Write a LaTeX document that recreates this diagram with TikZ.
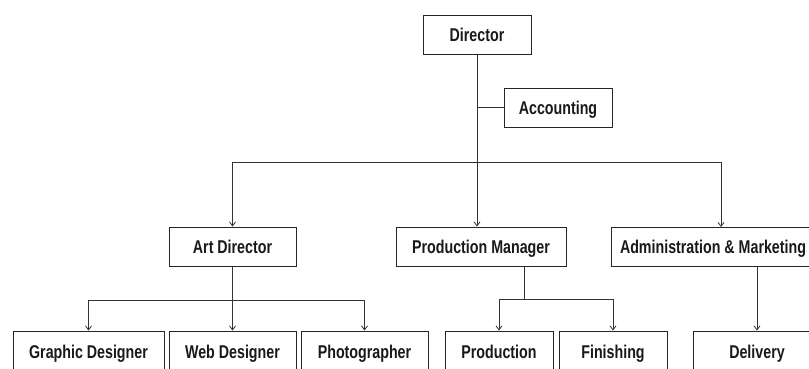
\documentclass[tikz,border=0pt]{standalone}
\usepackage{fontspec}
\setmainfont{Liberation Sans}[FakeStretch=0.77]
\usetikzlibrary{arrows.meta}
\begin{document}
\begin{tikzpicture}[x=1pt,y=-1pt,
  box/.style={draw=black!85, line width=0.9pt, rectangle, inner sep=0pt,
    minimum height=39pt, text height=14.4pt, text depth=0pt,
    font=\fontsize{18.5}{21}\selectfont\bfseries, text=black!90},
  link/.style={draw=black!80, line width=0.8pt},
  arr/.style={link, -{Straight Barb[length=4pt,width=6pt]}}]
\useasboundingbox (0,0) rectangle (809,369);
\clip (0,0) rectangle (809,369);
\node[box, minimum width=108pt] (dir) at (477,34.5) {Director};
\node[box, minimum width=108pt] (acc) at (558,107.5) {Accounting};
\node[box, minimum width=127pt] (art) at (232.5,246.5) {Art Director};
\node[box, minimum width=170pt] (pm) at (481,246.5) {Production Manager};
\node[box, minimum width=204pt] (adm) at (713,246.5) {Administration \& Marketing};
\node[box, minimum width=151pt, minimum height=41pt] (gd) at (88.5,351.5) {Graphic Designer};
\node[box, minimum width=127pt, minimum height=41pt] (wd) at (232.5,351.5) {Web Designer};
\node[box, minimum width=127pt, minimum height=41pt] (ph) at (364.5,351.5) {Photographer};
\node[box, minimum width=108pt, minimum height=41pt] (pr) at (499,351.5) {Production};
\node[box, minimum width=108pt, minimum height=41pt] (fi) at (613,351.5) {Finishing};
\node[box, minimum width=128pt, minimum height=41pt] (de) at (757,351.5) {Delivery};
\coordinate (top) at (477,162);
\coordinate (admin) at (721,227);
\coordinate (artb) at (232.5,300);
\coordinate (pmb) at (524,299);
% director branch
\draw[arr] (dir.south) -- (dir.south |- pm.north);
\draw[link] (dir.south |- acc.west) -- (acc.west);
\draw[arr] (top) -| (art.north);
\draw[arr] (top) -| (admin);
% art director branch
\draw[link] (art.south) -- (artb);
\draw[arr] (artb) -| (gd.north);
\draw[arr] (artb) -- (wd.north);
\draw[arr] (artb) -| (ph.north);
% production manager branch
\draw[link] (pmb |- pm.south) -- (pmb);
\draw[arr] (pmb) -| (pr.north);
\draw[arr] (pmb) -| (fi.north);
% administration branch
\draw[arr] (de.north |- adm.south) -- (de.north);
\end{tikzpicture}
\end{document}
